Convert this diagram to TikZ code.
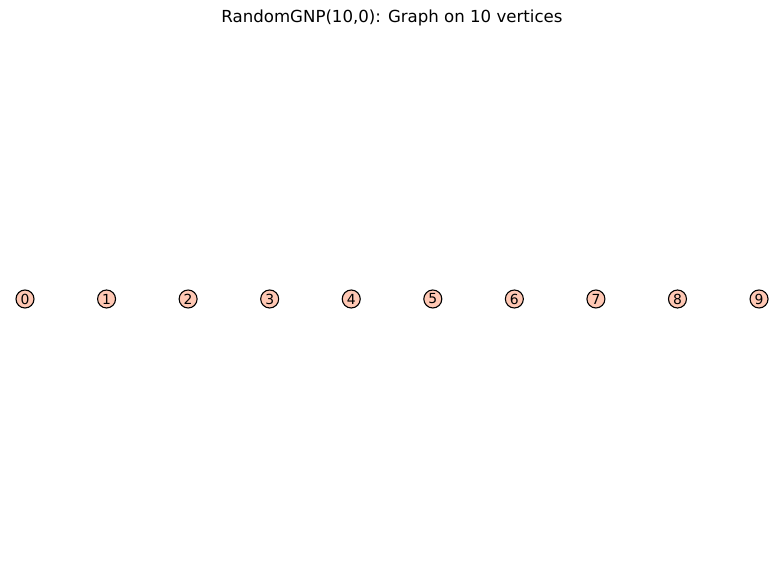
\documentclass[tikz,border=0pt]{standalone}
\usepackage{fontspec}
\setmainfont{DejaVu Sans}
\definecolor{vfill}{HTML}{FFC8B4}
\tikzset{vert/.style={circle,draw=black,fill=vfill,line width=1.1pt,minimum size=18pt,inner sep=0pt,font=\fontsize{13.9}{15}\selectfont}}

\begin{document}
\begin{tikzpicture}[x=1pt,y=1pt]
	\def\gapx{81.56}
	\def\rowy{278}
	\useasboundingbox (0,0) rectangle (784,577);
	\node[font=\fontsize{16.6}{19}\selectfont] (title) at (392,559) {RandomGNP(10,0): Graph on 10 vertices};
	\foreach \i in {0,...,9}{
		\node[vert] (v\i) at (25+\i*\gapx,\rowy) {\i};
	}
\end{tikzpicture}
\end{document}
